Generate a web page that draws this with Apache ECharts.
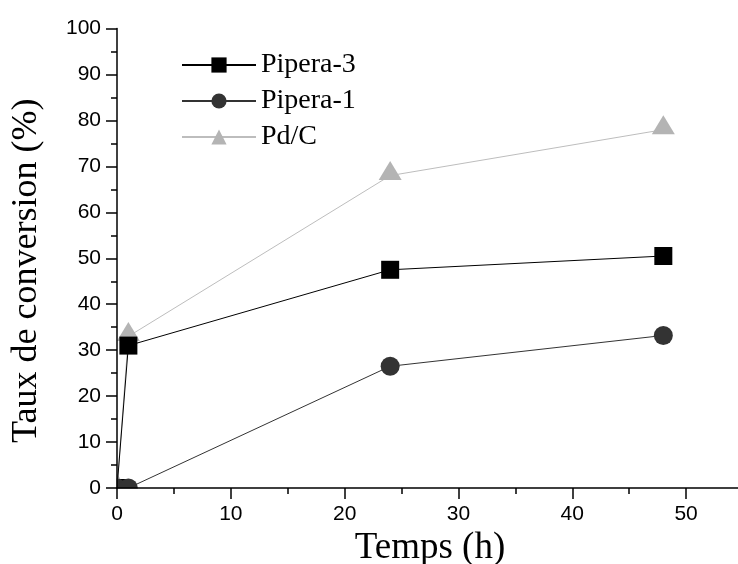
<!DOCTYPE html>
<html><head><meta charset="utf-8">
<script src="https://cdn.jsdelivr.net/npm/echarts@6/dist/echarts.min.js"></script>
<style>html,body{margin:0;padding:0;background:#fff}#c{width:738px;height:564px}</style>
</head><body><div id="c"></div>
<script>
const seriesNames = ['Pipera-3', 'Pipera-1', 'Pd/C'];
const pipera3 = [[0, 0], [1, 31], [24, 47.5], [48, 50.5]];
const pipera1 = [[0, 0], [1, 0], [24, 26.5], [48, 33.2]];
const pdc = [[0, 0], [1, 33], [24, 68], [48, 78]];
const xTitle = 'Temps (h)';
const yTitle = 'Taux de conversion (%)';

const chart = echarts.init(document.getElementById('c'));
const serif = '"Liberation Serif", "DejaVu Serif", serif';
const sans = '"Liberation Sans", Arial, sans-serif';
function axisCommon(showMax) {
  return {
    zlevel: 2, z: 10,
    axisLine: {show: true, onZero: false, lineStyle: {color: '#000', width: 1.5}},
    axisTick: {show: true, length: 11, lineStyle: {color: '#000', width: 1.5}},
    minorTick: {show: true, splitNumber: 2, length: 6, lineStyle: {color: '#000', width: 1.5}},
    splitLine: {show: false},
    axisLabel: {color: '#000', fontFamily: sans, fontSize: 21, margin: 16, showMaxLabel: showMax}
  };
}
chart.setOption({
  animation: false,
  backgroundColor: '#fff',
  grid: {left: 117, top: 28.6, width: 626, bottom: 76, containLabel: false, outerBoundsMode: 'none'},
  xAxis: Object.assign(axisCommon(false), {
    type: 'value', min: 0, max: 55, interval: 10,
    name: xTitle, nameLocation: 'middle', nameGap: 42,
    nameTextStyle: {fontFamily: serif, fontSize: 37, color: '#000'}
  }),
  yAxis: Object.assign(axisCommon(true), {
    type: 'value', min: 0, max: 100, interval: 10,
    name: yTitle, nameLocation: 'middle', nameGap: 72, nameRotate: 90,
    nameTextStyle: {fontFamily: serif, fontSize: 36, color: '#000', padding: [0, 25, 0, 0]}
  }),
  legend: {
    orient: 'vertical', left: 176, top: 46, zlevel: 2,
    itemWidth: 74, itemHeight: 19, itemGap: 8,
    textStyle: {fontFamily: serif, fontSize: 28, lineHeight: 28, color: '#000', padding: [0, 0, 0, 0]},
    data: seriesNames
  },
  graphic: [
    {type: 'rect', zlevel: 1, shape: {x: 0, y: 488.6, width: 738, height: 80}, style: {fill: '#fff'}, z: 50, silent: true},
    {type: 'rect', zlevel: 1, shape: {x: 0, y: 0, width: 116.6, height: 564}, style: {fill: '#fff'}, z: 50, silent: true}
  ],
  series: [
    {name: seriesNames[0], type: 'line', data: pipera3, symbol: 'rect', symbolSize: 18,
      itemStyle: {color: '#000'}, lineStyle: {color: '#000', width: 1}, z: 3},
    {name: seriesNames[1], type: 'line', data: pipera1, symbol: 'circle', symbolSize: 19,
      itemStyle: {color: '#333'}, lineStyle: {color: '#333', width: 1}, z: 4},
    {name: seriesNames[2], type: 'line', data: pdc, symbol: 'triangle', symbolSize: [23, 19], symbolOffset: [0, -5],
      itemStyle: {color: '#b4b4b4'}, lineStyle: {color: '#bdbdbd', width: 1}, z: 2}
  ]
});
</script></body></html>
